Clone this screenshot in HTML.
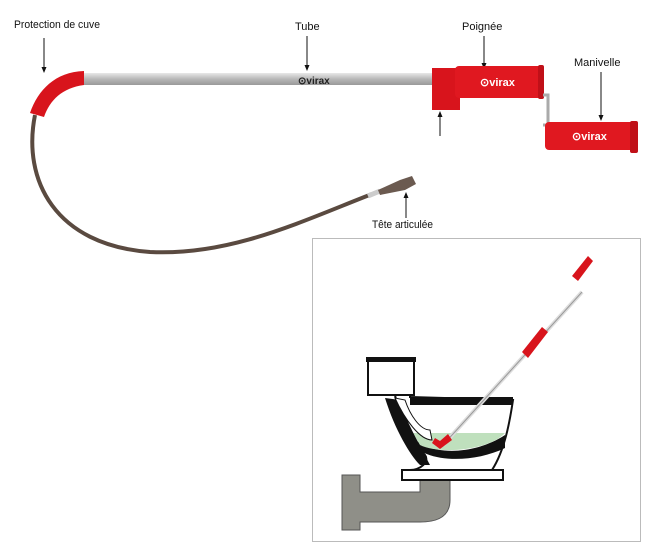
<!DOCTYPE html>
<html><head><meta charset="utf-8"><style>
body{margin:0;background:#fff;width:650px;height:550px;overflow:hidden}
svg text{font-family:"Liberation Sans",sans-serif;font-size:11px;fill:#111}
</style></head><body>
<svg width="650" height="550" viewBox="0 0 650 550" xmlns="http://www.w3.org/2000/svg">
<defs>
<linearGradient id="tg" x1="0" y1="0" x2="0" y2="1"><stop offset="0" stop-color="#e8e8e8"/><stop offset=".5" stop-color="#b8b8b8"/><stop offset="1" stop-color="#9a9a9a"/></linearGradient>
</defs>
<!-- labels -->
<text x="14" y="28" textLength="86" lengthAdjust="spacingAndGlyphs">Protection de cuve</text>
<text x="295" y="30">Tube</text>
<text x="462" y="30">Poignée</text>
<text x="574" y="66">Manivelle</text>
<text x="372" y="228" textLength="61" lengthAdjust="spacingAndGlyphs">Tête articulée</text>
<!-- arrows -->
<g stroke="#111" stroke-width="1">
<line x1="44" y1="38" x2="44" y2="68"/>
<line x1="307" y1="36" x2="307" y2="66"/>
<line x1="484" y1="36" x2="484" y2="64"/>
<line x1="601" y1="72" x2="601" y2="116"/>
<line x1="440" y1="136" x2="440" y2="116"/>
<line x1="406" y1="218" x2="406" y2="197"/>
</g>
<g fill="#111">
<path d="M41.5,67 L46.5,67 L44,73 Z"/>
<path d="M304.5,65 L309.5,65 L307,71 Z"/>
<path d="M481.5,63 L486.5,63 L484,69 Z"/>
<path d="M598.5,115 L603.5,115 L601,121 Z"/>
<path d="M437.5,117 L442.5,117 L440,111 Z"/>
<path d="M403.5,198 L408.5,198 L406,192 Z"/>
</g>
<!-- cable -->
<path d="M35,115 C22,180 55,245 150,252 C230,256 300,222 372,194" fill="none" stroke="#5a4a40" stroke-width="4"/>
<path d="M368,196 L380,191" stroke="#ccc" stroke-width="5"/>
<path d="M378,190 L400,180 L412,176 L416,184 L405,190 L380,195 Z" fill="#6b5a50"/>
<!-- tube -->
<rect x="80" y="73" width="355" height="12" fill="url(#tg)"/>
<path d="M30,113 L44,117 C50,100 62,88 84,85 L84,71 C55,72 38,90 30,113 Z" fill="#d8141c"/>
<text x="298" y="84" style="font-size:10px;font-weight:bold;fill:#222">⊙virax</text>
<!-- handle -->
<rect x="432" y="68" width="28" height="42" fill="#d8141c"/>
<rect x="455" y="66" width="88" height="32" rx="4" fill="#e01820"/>
<rect x="538" y="65" width="6" height="34" rx="2" fill="#c01018"/>
<text x="480" y="86" style="font-size:11px;font-weight:bold;fill:#fff">⊙virax</text>
<path d="M543,95 L548,95 L548,125 L543,125" fill="none" stroke="#aaa" stroke-width="3"/>
<rect x="545" y="122" width="92" height="28" rx="4" fill="#e01820"/>
<rect x="630" y="121" width="8" height="32" rx="2" fill="#c01018"/>
<text x="572" y="140" style="font-size:11px;font-weight:bold;fill:#fff">⊙virax</text>
<!-- box -->
<rect x="312.5" y="238.5" width="328" height="303" fill="#fff" stroke="#bbb"/>
<!-- pipe -->
<path d="M342,475 L360,475 L360,492 L420,492 L420,478 L450,478 L450,500 C450,515 440,522 420,522 L360,522 L360,530 L342,530 Z" fill="#8f8f88" stroke="#555" stroke-width="1"/>
<!-- toilet -->
<rect x="368" y="358" width="46" height="37" fill="#fff" stroke="#111" stroke-width="2"/>
<rect x="366" y="357" width="50" height="5" fill="#111"/>
<path d="M385,395 L395,395 C400,420 410,440 425,455 C430,462 420,470 410,470 L402,470 L402,480 L503,480 L503,470 L492,470 C505,450 510,420 513,400 L410,397 L410,395 Z" fill="#fff" stroke="#111" stroke-width="2"/>
<path d="M410,397 L513,397 L513,405 L410,405 Z" fill="#111"/>
<path d="M410,432 C420,455 470,458 505,435 L505,448 C470,465 420,462 410,440 Z" fill="#111"/>
<path d="M413,433 L505,433 C490,450 440,455 420,445 Z" fill="#bfe0bd"/>
<path d="M385,398 C395,430 410,455 420,465 L430,465 C420,445 405,420 400,400 Z" fill="#111"/>
<path d="M395,398 C405,420 420,440 432,440 L430,430 C420,430 410,415 405,400 Z" fill="#fff" stroke="#111"/>
<path d="M402,470 L503,470 L503,480 L402,480 Z" fill="#fff" stroke="#111" stroke-width="2"/>
<!-- rod -->
<line x1="443" y1="445" x2="582" y2="292" stroke="#ddd" stroke-width="4"/>
<line x1="443" y1="445" x2="582" y2="292" stroke="#999" stroke-width="1"/>
<path d="M432,443 L440,449 L452,440 L448,434 L440,441 L435,438 Z" fill="#d8141c"/>
<path d="M522,352 L528,358 L548,332 L542,327 Z" fill="#d8141c"/>
<path d="M572,276 L578,281 L593,261 L588,256 Z" fill="#d8141c"/>
</svg>
</body></html>
